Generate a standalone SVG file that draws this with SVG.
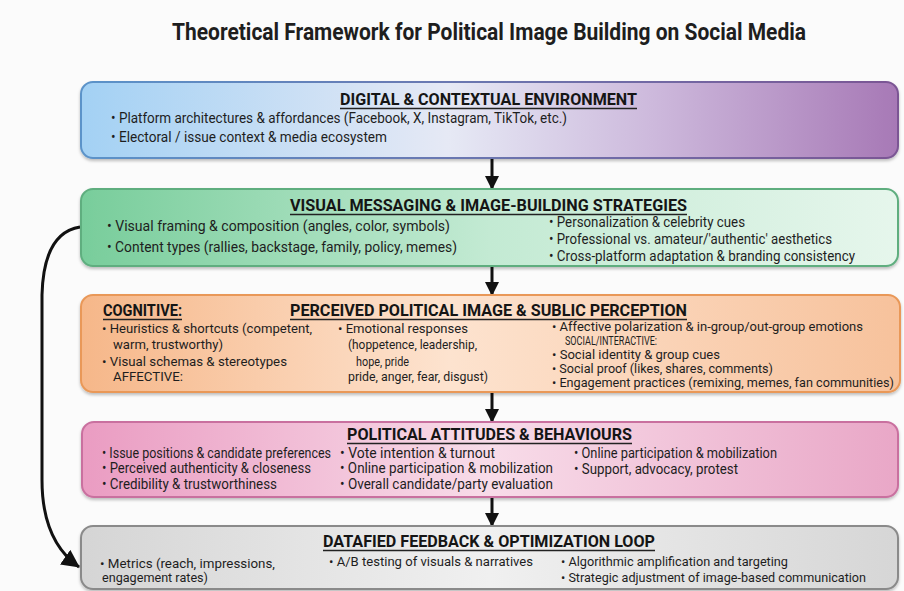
<svg xmlns="http://www.w3.org/2000/svg" width="904" height="591" viewBox="0 0 904 591">
<defs>
<linearGradient id="g1" x1="0" y1="0" x2="1" y2="0">
<stop offset="0" stop-color="#a3d1f4"/><stop offset="0.45" stop-color="#e6e9f5"/><stop offset="0.7" stop-color="#cdb9dc"/><stop offset="1" stop-color="#a779b6"/>
</linearGradient>
<linearGradient id="s1" x1="0" y1="0" x2="1" y2="0">
<stop offset="0" stop-color="#5b93c9"/><stop offset="1" stop-color="#7b5694"/>
</linearGradient>
<linearGradient id="g2" x1="0" y1="0" x2="1" y2="0">
<stop offset="0" stop-color="#78cd9b"/><stop offset="0.5" stop-color="#c3ead3"/><stop offset="1" stop-color="#e6f6ec"/>
</linearGradient>
<linearGradient id="g3" x1="0" y1="0" x2="1" y2="0">
<stop offset="0" stop-color="#f6b789"/><stop offset="0.45" stop-color="#fde3cf"/><stop offset="1" stop-color="#f7c29c"/>
</linearGradient>
<linearGradient id="g4" x1="0" y1="0" x2="1" y2="0">
<stop offset="0" stop-color="#ea9cc2"/><stop offset="0.5" stop-color="#f8dce9"/><stop offset="1" stop-color="#e9a7c7"/>
</linearGradient>
<linearGradient id="g5" x1="0" y1="0" x2="1" y2="0">
<stop offset="0" stop-color="#d5d5d5"/><stop offset="0.5" stop-color="#f0f0f0"/><stop offset="1" stop-color="#d6d6d6"/>
</linearGradient>
<filter id="sh" x="-5%" y="-10%" width="110%" height="130%">
<feDropShadow dx="0" dy="2" stdDeviation="1.5" flood-color="#000" flood-opacity="0.25"/>
</filter>
<marker id="ah" markerUnits="userSpaceOnUse" markerWidth="14" markerHeight="14" refX="13" refY="7" orient="auto">
<path d="M0,0 L14,7 L0,14 z" fill="#111"/>
</marker>
<marker id="ahL" markerUnits="userSpaceOnUse" markerWidth="18" markerHeight="18" refX="17" refY="9" orient="auto">
<path d="M0,0 L18,9 L0,18 z" fill="#111"/>
</marker>
</defs>
<style>
text{font-family:Roboto,"Liberation Sans",sans-serif;fill:#1e1e1e}
.t{font-size:23px;font-weight:bold}
.h{font-size:16px;font-weight:bold;fill:#151515}
.b{font-size:14px}
.s{font-size:13.5px}
.r{font-size:13px}
.u{stroke:#222;stroke-width:1.3}
.box{stroke-width:2}
.con{fill:none;stroke:#111;stroke-width:3}
</style>
<rect width="904" height="591" fill="#fbfbfb"/>
<text class="t" x="172" y="40" textLength="634" lengthAdjust="spacingAndGlyphs">Theoretical Framework for Political Image Building on Social Media</text>

<g id="connectors">
<line class="con" x1="492" y1="158" x2="492" y2="189" marker-end="url(#ah)"/>
<line class="con" x1="492" y1="266" x2="492" y2="295" marker-end="url(#ah)"/>
<line class="con" x1="492" y1="392" x2="492" y2="422" marker-end="url(#ah)"/>
<line class="con" x1="492" y1="497" x2="492" y2="526" marker-end="url(#ah)"/>
<path class="con" d="M80,227 C55,231 43,255 42,295 L42,480 C42,522 55,550 79,567" marker-end="url(#ahL)"/>
</g>

<g id="digital">
<rect class="box" x="81" y="82" width="817" height="76" rx="12" fill="url(#g1)" stroke="url(#s1)" filter="url(#sh)"/>
<text class="h" x="340" y="105" textLength="297" lengthAdjust="spacingAndGlyphs">DIGITAL &amp; CONTEXTUAL ENVIRONMENT</text>
<line class="u" x1="340" y1="108.5" x2="637" y2="108.5"/>
<text class="b" x="111" y="123" textLength="456" lengthAdjust="spacingAndGlyphs">•  Platform architectures &amp; affordances (Facebook, X, Instagram, TikTok, etc.)</text>
<text class="b" x="111" y="142" textLength="276" lengthAdjust="spacingAndGlyphs">•  Electoral / issue context &amp; media ecosystem</text>
</g>

<g id="visual">
<rect class="box" x="81" y="189" width="817" height="77" rx="12" fill="url(#g2)" stroke="#5fae7f" filter="url(#sh)"/>
<text class="h" x="290" y="211" textLength="397" lengthAdjust="spacingAndGlyphs">VISUAL MESSAGING &amp; IMAGE-BUILDING STRATEGIES</text>
<line class="u" x1="290" y1="214.5" x2="687" y2="214.5"/>
<text class="b" x="107" y="231" textLength="343" lengthAdjust="spacingAndGlyphs">•  Visual framing &amp; composition (angles, color, symbols)</text>
<text class="b" x="107" y="252" textLength="350" lengthAdjust="spacingAndGlyphs">•  Content types (rallies, backstage, family, policy, memes)</text>
<text class="b" x="549" y="227" textLength="196" lengthAdjust="spacingAndGlyphs">•  Personalization &amp; celebrity cues</text>
<text class="b" x="549" y="244" textLength="283" lengthAdjust="spacingAndGlyphs">•  Professional vs. amateur/'authentic' aesthetics</text>
<text class="b" x="549" y="261" textLength="306" lengthAdjust="spacingAndGlyphs">•  Cross-platform adaptation &amp; branding consistency</text>
</g>

<g id="perceived">
<rect class="box" x="81" y="295" width="819" height="97" rx="12" fill="url(#g3)" stroke="#e99858" filter="url(#sh)"/>
<text class="h" x="290" y="316" textLength="397" lengthAdjust="spacingAndGlyphs">PERCEIVED POLITICAL IMAGE &amp; SUBLIC PERCEPTION</text>
<line class="u" x1="290" y1="319.5" x2="687" y2="319.5"/>
<text class="h" x="103" y="316" textLength="79" lengthAdjust="spacingAndGlyphs">COGNITIVE:</text>
<line class="u" x1="103" y1="319.5" x2="182" y2="319.5"/>
<text class="s" x="102" y="333" textLength="210" lengthAdjust="spacingAndGlyphs">•  Heuristics &amp; shortcuts (competent,</text>
<text class="s" x="113" y="349" textLength="110" lengthAdjust="spacingAndGlyphs">warm, trustworthy)</text>
<text class="s" x="102" y="366" textLength="185" lengthAdjust="spacingAndGlyphs">•  Visual schemas &amp; stereotypes</text>
<text class="s" x="113" y="381" textLength="70" lengthAdjust="spacingAndGlyphs">AFFECTIVE:</text>
<text class="s" x="338" y="333" textLength="130" lengthAdjust="spacingAndGlyphs">•  Emotional responses</text>
<text class="s" x="348" y="349" textLength="129" lengthAdjust="spacingAndGlyphs">(hoppetence, leadership,</text>
<text class="s" x="356" y="366" textLength="53" lengthAdjust="spacingAndGlyphs">hope, pride</text>
<text class="s" x="348" y="381" textLength="140" lengthAdjust="spacingAndGlyphs">pride, anger, fear, disgust)</text>
<text class="r" x="552" y="331" textLength="311" lengthAdjust="spacingAndGlyphs">•  Affective polarization &amp; in-group/out-group emotions</text>
<text class="r" x="565" y="345" textLength="92" lengthAdjust="spacingAndGlyphs">SOCIAL/INTERACTIVE:</text>
<text class="r" x="552" y="359" textLength="168" lengthAdjust="spacingAndGlyphs">•  Social identity &amp; group cues</text>
<text class="r" x="552" y="373" textLength="221" lengthAdjust="spacingAndGlyphs">•  Social proof (likes, shares, comments)</text>
<text class="r" x="552" y="387" textLength="342" lengthAdjust="spacingAndGlyphs">•  Engagement practices (remixing, memes, fan communities)</text>
</g>

<g id="attitudes">
<rect class="box" x="82" y="422" width="816" height="75" rx="12" fill="url(#g4)" stroke="#c9709f" filter="url(#sh)"/>
<text class="h" x="347" y="440" textLength="285" lengthAdjust="spacingAndGlyphs">POLITICAL ATTITUDES &amp; BEHAVIOURS</text>
<line class="u" x1="347" y1="443.5" x2="632" y2="443.5"/>
<text class="b" x="102" y="458" textLength="229" lengthAdjust="spacingAndGlyphs">•  Issue positions &amp; candidate preferences</text>
<text class="b" x="102" y="473" textLength="209" lengthAdjust="spacingAndGlyphs">•  Perceived authenticity &amp; closeness</text>
<text class="b" x="102" y="489" textLength="175" lengthAdjust="spacingAndGlyphs">•  Credibility &amp; trustworthiness</text>
<text class="b" x="340" y="458" textLength="155" lengthAdjust="spacingAndGlyphs">•  Vote intention &amp; turnout</text>
<text class="b" x="340" y="473" textLength="213" lengthAdjust="spacingAndGlyphs">•  Online participation &amp; mobilization</text>
<text class="b" x="340" y="489" textLength="213" lengthAdjust="spacingAndGlyphs">•  Overall candidate/party evaluation</text>
<text class="b" x="574" y="458" textLength="203" lengthAdjust="spacingAndGlyphs">•  Online participation &amp; mobilization</text>
<text class="b" x="574" y="474" textLength="164" lengthAdjust="spacingAndGlyphs">•  Support, advocacy, protest</text>
</g>

<g id="feedback">
<rect class="box" x="81" y="526" width="817" height="63" rx="12" fill="url(#g5)" stroke="#8a8a8a" filter="url(#sh)"/>
<text class="h" x="323" y="547" textLength="332" lengthAdjust="spacingAndGlyphs">DATAFIED FEEDBACK &amp; OPTIMIZATION LOOP</text>
<line class="u" x1="323" y1="550.5" x2="655" y2="550.5"/>
<text class="s" x="100" y="568" textLength="175" lengthAdjust="spacingAndGlyphs">•  Metrics (reach, impressions,</text>
<text class="s" x="102" y="582" textLength="106" lengthAdjust="spacingAndGlyphs">engagement rates)</text>
<text class="s" x="329" y="566" textLength="204" lengthAdjust="spacingAndGlyphs">•  A/B testing of visuals &amp; narratives</text>
<text class="s" x="561" y="566" textLength="227" lengthAdjust="spacingAndGlyphs">•  Algorithmic amplification and targeting</text>
<text class="s" x="561" y="582" textLength="305" lengthAdjust="spacingAndGlyphs">•  Strategic adjustment of image-based communication</text>
</g>
</svg>
